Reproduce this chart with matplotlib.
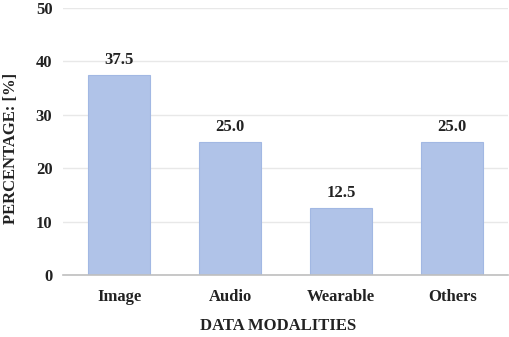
import matplotlib.pyplot as plt
import numpy as np

plt.rcParams["font.family"] = ["Liberation Serif", "DejaVu Serif"]
plt.rcParams["font.weight"] = "bold"

categories = ["Image", "Audio", "Wearable", "Others"]
percentages = [37.5, 25.0, 12.5, 25.0]
y_ticks = [0, 10, 20, 30, 40, 50]

fig = plt.figure(figsize=(5.1, 3.37), dpi=100)
ax = fig.add_axes([0.1245, 0.184, 0.871, 0.792])

x = np.arange(len(categories))
ax.bar(x, percentages, width=0.56, color="#B0C3E8", edgecolor="#A2B8E3",
       linewidth=0.8, zorder=3)
for xi, v in zip(x, percentages):
    ax.text(xi, v + 2.05, f"{v:.1f}", ha="center", va="baseline",
            fontsize=12, fontweight="bold", color="#222222")

ax.set_xlim(-0.5, len(categories) - 0.5)
ax.set_ylim(0, 50)
ax.set_yticks(y_ticks)
ax.set_xticks(x)
ax.set_xticklabels(categories)
ax.tick_params(axis="both", length=0, labelsize=12, colors="#222222")
ax.tick_params(axis="x", pad=10)
ax.tick_params(axis="y", pad=8)
ax.grid(axis="y", color="#E8E8E8", linewidth=1, zorder=0)
for s in ["top", "right", "left"]:
    ax.spines[s].set_visible(False)
ax.spines["bottom"].set_color("#BFBFBF")
ax.spines["bottom"].set_linewidth(1.2)
ax.spines["bottom"].set_zorder(4)

ax.set_xlabel("DATA MODALITIES", fontsize=12, fontweight="bold",
              color="#222222")
ax.xaxis.set_label_coords(0.484, -0.16)
ax.set_ylabel("PERCENTAGE: [%]", fontsize=12, fontweight="bold",
              color="#222222")
ax.yaxis.set_label_coords(-0.1, 0.476)

fig.savefig("out.png", dpi=100)
